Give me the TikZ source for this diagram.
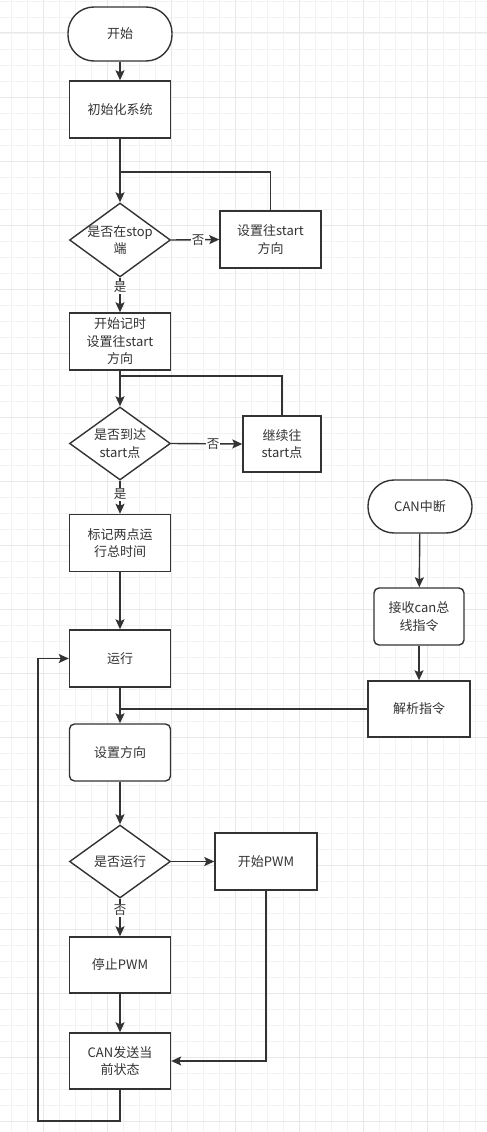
\documentclass[tikz,border=0pt]{standalone}
\usepackage{fontspec}
\setmainfont{Noto Sans CJK SC}
\usetikzlibrary{shapes.geometric,arrows.meta}
\definecolor{ink}{HTML}{333333}
\definecolor{gminor}{HTML}{F3F3F3}
\definecolor{gmajor}{HTML}{E8E8E8}
\begin{document}
\begin{tikzpicture}[x=1pt,y=-1pt,
  every node/.style={text=ink,font=\fontsize{13}{17.5}\selectfont},
  box/.style={draw=ink,line width=1.4pt,rectangle,fill=white,align=center,inner sep=0pt},
  rbox/.style={box,rounded corners=5pt},
  term/.style={box,rounded corners=26pt},
  dia/.style={draw=ink,line width=1.4pt,diamond,fill=white,inner sep=0pt},
  wire/.style={draw=ink,line width=1.4pt},
  arr/.style={wire,-{Stealth[length=10pt,width=9pt,inset=2pt]}},
  lbl/.style={fill=white,inner sep=1pt,font=\fontsize{12.5}{14}\selectfont}
]
\useasboundingbox (0,0) rectangle (487,1132);
\fill[white] (0,0) rectangle (487,1132);
% grid
\foreach \i in {0,...,30} {\draw[gminor,line width=0.8pt] ({11+16*\i},0) -- ({11+16*\i},1132);}
\foreach \j in {0,...,70} {\draw[gminor,line width=0.8pt] (0,{1+16*\j}) -- (487,{1+16*\j});}
\foreach \i in {0,...,7} {\draw[gmajor,line width=1pt] ({43+64*\i},0) -- ({43+64*\i},1132);}
\foreach \j in {0,...,17} {\draw[gmajor,line width=1pt] (0,{33+64*\j}) -- (487,{33+64*\j});}

% nodes
\node[term,minimum width=104pt,minimum height=54pt] (start) at (120,34) {开始};
\node[box,minimum width=101pt,minimum height=57pt] (init) at (120,109.5) {初始化系统};
\node[dia,minimum width=101pt,minimum height=74pt] (d1) at (120,240) {};
\node[align=center] (d1t) at (d1.center) {是否在stop\\端};
\node[box,minimum width=101pt,minimum height=57pt] (t1) at (270.5,239.5) {设置往start\\方向};
\node[box,minimum width=101pt,minimum height=57pt] (b2) at (120,341.5) {开始记时\\设置往start\\方向};
\node[dia,minimum width=101pt,minimum height=73pt] (d2) at (120,443.5) {};
\node[align=center] (d2t) at (d2.center) {是否到达\\start点};
\node[box,minimum width=78pt,minimum height=56pt] (t2) at (282,444) {继续往\\start点};
\node[box,minimum width=101pt,minimum height=57pt] (b3) at (120,543) {标记两点运\\行总时间};
\node[box,minimum width=101pt,minimum height=57pt] (run) at (120,658.5) {运行};
\node[rbox,minimum width=101pt,minimum height=57pt] (setdir) at (120,752.5) {设置方向};
\node[dia,minimum width=101pt,minimum height=73pt] (d3) at (120,861.5) {};
\node (d3t) at (d3.center) {是否运行};
\node[box,minimum width=102pt,minimum height=57pt] (pwm) at (266,861.5) {开始PWM};
\node[box,minimum width=101pt,minimum height=56pt] (stop) at (120,965) {停止PWM};
\node[box,minimum width=101pt,minimum height=56pt] (can) at (120,1061) {CAN发送当\\前状态};
\node[term,minimum width=104pt,minimum height=53pt] (canint) at (420,506.5) {CAN中断};
\node[rbox,minimum width=90pt,minimum height=57pt] (recv) at (419,616.5) {接收can总\\线指令};
\node[box,minimum width=102pt,minimum height=56pt] (parse) at (419,709) {解析指令};

% junction coordinates
\coordinate (j1) at (120,172);
\coordinate (j2) at (120,376);
\coordinate (j3) at (120,709);
\coordinate (lb) at (38,1121);

% connectors
\draw[arr] (start) -- (init);
\draw[arr] (init) -- (d1);
\draw[wire] (t1.north) |- (j1);
\draw[arr] (d1.east) -- node[lbl,pos=0.56] {否} (t1.west);
\draw[arr] (d1.south) -- node[lbl,pos=0.28] {是} (b2.north);
\draw[arr] (b2) -- (d2);
\draw[wire] (t2.north) |- (j2);
\draw[arr] (d2.east) -- node[lbl,pos=0.59] {否} (t2.west);
\draw[arr] (d2.south) -- node[lbl,pos=0.41] {是} (b3.north);
\draw[arr] (b3) -- (run);
\draw[arr] (run) -- (setdir);
\draw[wire] (parse.west) -- (j3);
\draw[arr] (canint) -- (recv);
\draw[arr] (recv) -- (parse);
\draw[arr] (setdir) -- (d3);
\draw[arr] (d3.east) -- (pwm.west);
\draw[arr] (d3.south) -- node[lbl,pos=0.31] {否} (stop.north);
\draw[arr] (stop) -- (can);
\draw[arr] (pwm.south) |- (can.east);
\draw[arr] (can.south) |- (lb) |- (run.west);
\end{tikzpicture}
\end{document}
